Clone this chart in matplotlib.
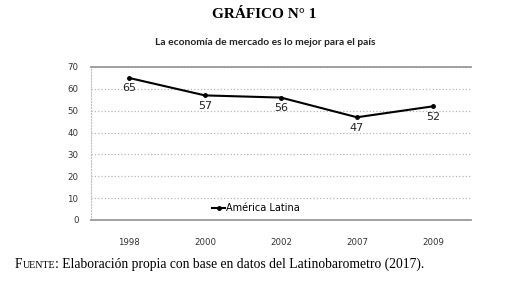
import matplotlib
matplotlib.use('Agg')
from matplotlib import pyplot as plt

# Data
years = ['1998', '2000', '2002', '2007', '2009']
values = [65, 57, 56, 47, 52]
yticks = [0, 10, 20, 30, 40, 50, 60, 70]

fig = plt.figure(figsize=(5.28, 2.96), dpi=100)
fig.patch.set_facecolor('white')
ax = fig.add_axes([0.1723, 0.2568, 0.7197, 0.5169])

x = list(range(len(years)))
ax.plot(x, values, color='black', lw=1.5, marker='o', markersize=2.5,
        label='América Latina')
for xi, v in zip(x, values):
    ax.annotate(str(v), (xi, v), xytext=(0, -4), textcoords='offset points',
                ha='center', va='top', fontsize=8, color='#222222')

ax.set_xlim(-0.5, len(years) - 0.5)
ax.set_ylim(0, 70)
ax.set_xticks(x)
ax.set_xticklabels(years, fontsize=6.2, color='#333333')
ax.set_yticks(yticks)
ax.set_yticklabels([str(t) for t in yticks], fontsize=6.2, color='#333333')
ax.tick_params(axis='x', length=0, pad=13)
ax.tick_params(axis='y', length=0, pad=9)

ax.grid(axis='y', linestyle=':', color='#b8b8b8', lw=0.9)
ax.set_axisbelow(True)
for side in ['top', 'bottom']:
    ax.spines[side].set_color('#9a9a9a')
    ax.spines[side].set_linewidth(1.3)
ax.spines['left'].set_color('#c0c0c0')
ax.spines['left'].set_linestyle(':')
ax.spines['right'].set_visible(False)

ax.legend(loc='lower left', bbox_to_anchor=(0.3, 0.0), frameon=False,
          fontsize=7, handlelength=1.4, handletextpad=0.1, borderaxespad=0.3)

# Titles
fig.text(0.5, 0.95, 'GRÁFICO N° 1', ha='center', va='center',
         fontsize=11, fontweight='bold', family='Liberation Serif')
fig.text(0.502, 0.858, 'La economía de mercado es lo mejor para el país',
         ha='center', va='center', fontsize=7.4, fontweight='bold',
         family='Lato', color='#222222')

# Footer, "FUENTE" in small caps
parts = [('F', 9.8), ('UENTE', 7.2),
         (': Elaboración propia con base en datos del Latinobarometro (2017).', 9.8)]
renderer = fig.canvas.get_renderer()
xpos = 15
for txt, size in parts:
    t = fig.text(xpos / 528, 0.095, txt, ha='left', va='baseline',
                 fontsize=size, family='Liberation Serif')
    xpos = t.get_window_extent(renderer).x1

fig.savefig('out.png', dpi=100)
